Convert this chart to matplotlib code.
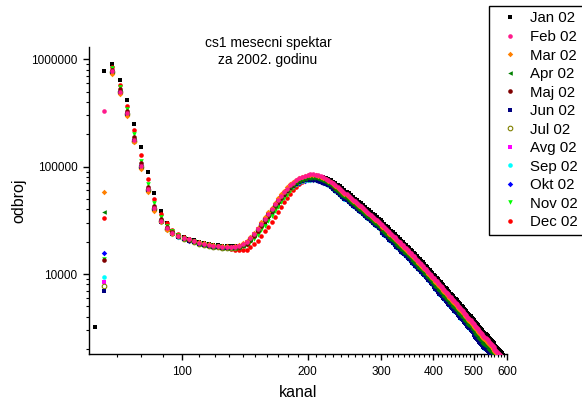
import matplotlib
matplotlib.use("Agg")
import matplotlib.pyplot as plt
from matplotlib.ticker import FixedLocator, FixedFormatter, NullFormatter

plt.rcParams['font.family'] = ['Liberation Sans', 'DejaVu Sans']

# kanali (svaka 3. tacka spektra)
kanal = [65, 68, 71, 74, 77, 80, 83, 86, 89, 92,
         95, 98, 101, 104, 107, 110, 113, 116, 119, 122,
         125, 128, 131, 134, 137, 140, 143, 146, 149, 152,
         155, 158, 161, 164, 167, 170, 173, 176, 179, 182,
         185, 188, 191, 194, 197, 200, 203, 206, 209, 212,
         215, 218, 221, 224, 227, 230, 233, 236, 239, 242,
         245, 248, 251, 254, 257, 260, 263, 266, 269, 272,
         275, 278, 281, 284, 287, 290, 293, 296, 299, 302,
         305, 308, 311, 314, 317, 320, 323, 326, 329, 332,
         335, 338, 341, 344, 347, 350, 353, 356, 359, 362,
         365, 368, 371, 374, 377, 380, 383, 386, 389, 392,
         395, 398, 401, 404, 407, 410, 413, 416, 419, 422,
         425, 428, 431, 434, 437, 440, 443, 446, 449, 452,
         455, 458, 461, 464, 467, 470, 473, 476, 479, 482,
         485, 488, 491, 494, 497, 500, 503, 506, 509, 512,
         515, 518, 521, 524, 527, 530, 533, 536, 539, 542,
         545, 548, 551, 554, 557, 560, 563, 566, 569, 572,
         575, 578, 581, 584, 587]
kanal_jan = [62] + kanal

# pocetak spektra (kanali 65-230, za Jan 62-230)
jan_pocetak = [3200, 773000, 912000, 634000, 413000, 252000, 151000, 89000, 56500, 38600, 30100,
               25400, 23300, 22200, 21400, 20700, 20000, 19500, 19100, 18700, 18500,
               18300, 18200, 18100, 18100, 18200, 18600, 19300, 20500, 22200, 24400,
               27000, 30000, 33300, 36800, 40600, 44600, 48800, 53000, 57200, 61300,
               65200, 68800, 72000, 74800, 77000, 78800, 80000, 80800, 81100, 81000,
               80400, 79400, 78000, 76300, 74400, 72300]
feb_pocetak = [330000, 770000, 500000, 313000, 177000, 101000, 61500, 41000, 31400, 26700,
               24300, 22800, 21800, 21100, 20400, 19600, 19200, 18800, 18400, 18300,
               18000, 18000, 17900, 18000, 18300, 19000, 19900, 21600, 23600, 26300,
               29300, 32700, 36300, 40000, 44500, 49000, 53500, 58000, 62500, 67000,
               71000, 74800, 78000, 80600, 82600, 83800, 84600, 84800, 84200, 83000,
               81400, 79600, 77400, 75000, 72600, 70000]
mar_pocetak = [58000, 731000, 475000, 297000, 168000, 96000, 58400, 39000, 30200, 25900,
               23800, 22600, 21800, 21100, 20400, 19700, 19300, 18900, 18500, 18400,
               18100, 18100, 18000, 18200, 18600, 19500, 20500, 22200, 24300, 27100,
               30200, 33700, 37400, 41200, 45800, 50500, 55100, 59700, 64100, 68400,
               72100, 75600, 78400, 80600, 82200, 83000, 83800, 84000, 83400, 82200,
               80600, 78800, 76600, 74200, 71500, 68800]
apr_pocetak = [38000, 760000, 495000, 310000, 176000, 100000, 61000, 40600, 31000, 26300,
               23900, 22300, 21400, 20700, 20000, 19200, 18800, 18400, 18000, 17900,
               17600, 17600, 17500, 17600, 17900, 18400, 19300, 20900, 22900, 25500,
               28400, 31700, 35200, 38800, 43200, 47500, 51900, 56300, 60300, 64300,
               67800, 71100, 73700, 75800, 77400, 78300, 78900, 78900, 78300, 77200,
               75700, 73900, 71700, 69300, 66900, 64400]
maj_pocetak = [13500, 800000, 525000, 330000, 188000, 107000, 65000, 43000, 32600, 27500,
               24700, 22800, 21600, 20900, 20200, 19400, 19000, 18600, 18200, 18100,
               17800, 17800, 17700, 17800, 18000, 18500, 19200, 20700, 22700, 25200,
               28100, 31400, 34800, 38400, 42700, 47000, 51400, 55700, 60000, 64300,
               68000, 71600, 74600, 77000, 78900, 80000, 80800, 81000, 80400, 79300,
               77700, 76000, 73900, 71600, 69300, 66500]
jun_pocetak = [6900, 750000, 490000, 307000, 173000, 99000, 60300, 40200, 30800, 26100,
               23700, 22100, 21100, 20500, 19800, 19000, 18600, 18200, 17800, 17800,
               17500, 17500, 17400, 17500, 17800, 18500, 19400, 21100, 23000, 25600,
               28500, 31800, 35200, 38600, 42700, 46800, 50800, 54800, 58800, 62600,
               65900, 68900, 71300, 73100, 74400, 75000, 75300, 75500, 74900, 73900,
               72400, 70800, 68900, 66800, 64500, 62100]
jul_pocetak = [7700, 762000, 495000, 310000, 175000, 100000, 60900, 40600, 31100, 26400,
               24000, 22400, 21400, 20700, 20000, 19200, 18800, 18400, 18000, 17900,
               17600, 17600, 17500, 17600, 18000, 18700, 19600, 21300, 23200, 25900,
               28900, 32200, 35800, 39200, 43400, 47500, 51600, 55700, 59700, 63700,
               67100, 70300, 72900, 74900, 76200, 76900, 77300, 77200, 76600, 75500,
               74100, 72400, 70400, 68300, 66100, 63700]
avg_pocetak = [8400, 747000, 485000, 304000, 172000, 98000, 59700, 39800, 30500, 26000,
               23700, 22300, 21400, 20700, 20000, 19200, 18800, 18400, 18000, 17900,
               17600, 17600, 17500, 17700, 18100, 18800, 19700, 21400, 23400, 26000,
               29000, 32400, 35900, 39400, 43600, 47800, 51900, 55900, 59800, 63500,
               66700, 69600, 71800, 73500, 74800, 75600, 76200, 76300, 75800, 74700,
               73300, 71600, 69700, 67500, 65300, 62700]
sep_pocetak = [9300, 755000, 490000, 307000, 173000, 99000, 60300, 40200, 30800, 26200,
               23800, 22200, 21300, 20600, 19900, 19100, 18700, 18300, 17900, 17800,
               17500, 17500, 17500, 17600, 18000, 18700, 19600, 21300, 23200, 25900,
               28800, 32200, 35600, 39100, 43300, 47400, 51500, 55500, 59400, 63100,
               66300, 69200, 71500, 73200, 74500, 75300, 75800, 75900, 75400, 74300,
               72900, 71200, 69300, 67100, 65000, 62500]
okt_pocetak = [15800, 780000, 508000, 318000, 180000, 103000, 62000, 41200, 31400, 26500,
               23900, 22200, 21100, 20500, 19800, 19000, 18600, 18200, 17800, 17800,
               17500, 17500, 17400, 17500, 17800, 18500, 19400, 21000, 23000, 25600,
               28500, 31800, 35300, 38800, 43000, 47200, 51200, 55100, 58900, 62600,
               65800, 68700, 71000, 72800, 74200, 75100, 75500, 75500, 74900, 73900,
               72400, 70800, 68900, 66800, 64500, 62100]
nov_pocetak = [13700, 835000, 550000, 345000, 200000, 114000, 69000, 45500, 34100, 28300,
               25200, 23200, 21800, 20900, 20200, 19400, 19000, 18600, 18200, 18100,
               17800, 17700, 17500, 17500, 17700, 18200, 18800, 20000, 21400, 23300,
               25500, 28300, 31200, 34400, 38300, 42400, 46500, 50800, 55000, 59300,
               63200, 67000, 70200, 73000, 75200, 76700, 77800, 78400, 78300, 77600,
               76100, 74400, 72400, 70100, 67900, 65500]
dec_pocetak = [33000, 850000, 580000, 366000, 219000, 128000, 76000, 49500, 36500, 29600,
               25800, 23500, 22000, 21000, 20200, 19400, 19000, 18600, 18200, 18000,
               17600, 17500, 17100, 16800, 16700, 16700, 16900, 17700, 18900, 20500,
               22400, 24900, 27600, 30600, 34300, 38200, 42300, 46400, 50900, 55600,
               60000, 64300, 68300, 71700, 74300, 76300, 77800, 78900, 78700, 78000,
               76700, 75200, 73300, 71100, 68900, 66500]

# rep spektra (kanali 233-587)
jan_rep = [69700, 67300, 65600, 63200, 60700, 58400, 56300, 54200, 52300, 50400,
           49000, 47300, 45600, 43800, 42200, 40700, 39200, 37800, 36400, 35100,
           33900, 32700, 31600,
           30400, 29300, 28200, 27200, 26200, 25300, 24400, 23500, 22700, 21900,
           21200, 20400, 19800, 19200, 18500, 17900, 17300, 16800, 16300, 15800,
           15200, 14700, 14100, 13700, 13300, 12900, 12400, 12000, 11600, 11200,
           10900, 10500, 10200,
           9880, 9560, 9260, 8950, 8670, 8400, 8140, 7890, 7650, 7410,
           7180, 6970, 6760, 6560, 6370, 6180, 6000, 5880, 5700, 5530,
           5370, 5210, 5060, 4920, 4770, 4640, 4510, 4380, 4260, 4140,
           4030, 3920, 3820,
           3710, 3610, 3510, 3420, 3320, 3240, 3150, 3070, 2990, 2910,
           2830, 2770, 2690, 2630, 2560, 2500, 2430, 2380, 2310, 2260,
           2200, 2150, 2090, 2050, 1990, 1950, 1910, 1860, 1820, 1780]
feb_rep = [67100, 64500, 61900, 59600, 57300, 55100, 53100, 51100, 49300, 47500,
           45800, 44200, 42600, 40900, 39400, 38000, 36600, 35300, 34000, 32800,
           31700, 30600, 29500,
           28400, 27400, 26400, 25400, 24500, 23600, 22800, 22000, 21200, 20500,
           19800, 19100, 18500, 17900, 17300, 16700, 16200, 15600, 15100, 14600,
           14100, 13600, 13100, 12700, 12300, 11900, 11500, 11100, 10700, 10400,
           10100, 9750, 9450,
           9150, 8850, 8570, 8290, 8030, 7780, 7540, 7310, 7080, 6860,
           6650, 6450, 6260, 6070, 5900, 5720, 5560, 5390, 5230, 5070,
           4930, 4780, 4640, 4510, 4380, 4260, 4140, 4020, 3910, 3800,
           3700, 3600, 3500,
           3400, 3310, 3220, 3140, 3050, 2970, 2890, 2820, 2740, 2670,
           2600, 2540, 2470, 2410, 2350, 2290, 2230, 2180, 2120, 2070,
           2020, 1970, 1920, 1880, 1830, 1790, 1750, 1710, 1670, 1630]
rep_a = [65800, 63200, 60700, 58400, 56200, 54000, 52000, 50100, 48300, 46600,
         44900, 43300, 41700, 40100, 38600, 37200, 35900, 34600, 33300, 32100,
         31100, 30000, 28900,
         27500, 26600, 25600, 24600, 23800, 22900, 22100, 21300, 20600, 19900,
         19200, 18500, 17900, 17400, 16800, 16200, 15700, 15100, 14600, 14200,
         13700, 13200, 12700, 12300, 11900, 11500, 11200, 10800, 10400, 10100,
         9800, 9460, 9170,
         8780, 8500, 8230, 7960, 7710, 7470, 7240, 7020, 6800, 6590,
         6380, 6190, 6010, 5830, 5660, 5490, 5340, 5170, 5020, 4870,
         4730, 4590, 4450, 4330, 4200, 4090, 3970, 3860, 3750, 3650,
         3550, 3460, 3360,
         3230, 3140, 3060, 2980, 2900, 2820, 2750, 2680, 2600, 2540,
         2470, 2410, 2350, 2290, 2230, 2180, 2120, 2070, 2010, 1970,
         1920, 1870, 1820, 1790, 1740, 1700, 1660, 1620, 1590, 1550]
rep_b = [63100, 60600, 58200, 56000, 53900, 51800, 49900, 48000, 46300, 44700,
         43100, 41500, 40000, 38400, 37000, 35700, 34400, 33200, 32000, 30800,
         29800, 28800, 27700,
         26400, 25500, 24600, 23600, 22800, 21900, 21200, 20500, 19700, 19100,
         18400, 17800, 17200, 16600, 16100, 15500, 15100, 14500, 14000, 13600,
         13100, 12600, 12200, 11800, 11400, 11100, 10700, 10300, 9950, 9670,
         9390, 9070, 8790,
         8420, 8140, 7880, 7630, 7390, 7160, 6940, 6730, 6510, 6310,
         6120, 5930, 5760, 5580, 5430, 5260, 5120, 4960, 4810, 4660,
         4540, 4400, 4270, 4150, 4030, 3920, 3810, 3700, 3600, 3500,
         3400, 3310, 3220,
         3090, 3010, 2930, 2860, 2780, 2700, 2630, 2570, 2490, 2430,
         2370, 2310, 2250, 2190, 2140, 2080, 2030, 1980, 1930, 1880,
         1840, 1790, 1750, 1710, 1670, 1630, 1590, 1560, 1520, 1480]
rep_c = [60400, 58100, 55700, 53600, 51600, 49600, 47800, 46000, 44400, 42800,
         41200, 39800, 38300, 36800, 35500, 34200, 32900, 31800, 30600, 29500,
         28500, 27500, 26600,
         25000, 24100, 23200, 22400, 21600, 20800, 20100, 19400, 18700, 18000,
         17400, 16800, 16300, 15800, 15200, 14700, 14300, 13700, 13300, 12800,
         12400, 12000, 11500, 11200, 10800, 10500, 10100, 9770, 9420, 9150,
         8890, 8580, 8320,
         7870, 7610, 7370, 7130, 6910, 6690, 6480, 6290, 6090, 5900,
         5720, 5550, 5380, 5220, 5070, 4920, 4780, 4640, 4500, 4360,
         4240, 4110, 3990, 3880, 3770, 3660, 3560, 3460, 3360, 3270,
         3180, 3100, 3010,
         2860, 2780, 2700, 2640, 2560, 2490, 2430, 2370, 2300, 2240,
         2180, 2130, 2070, 2020, 1970, 1920, 1870, 1830, 1780, 1740,
         1700, 1650, 1610, 1580, 1540, 1500, 1470, 1440, 1400, 1370]
rep_d = [59000, 56800, 54500, 52400, 50400, 48500, 46700, 45000, 43400, 41800,
         40300, 38900, 37500, 36000, 34700, 33400, 32200, 31100, 29900, 28900,
         27900, 26900, 26000,
         24100, 23300, 22400, 21600, 20800, 20100, 19400, 18700, 18000, 17400,
         16800, 16200, 15700, 15200, 14700, 14200, 13800, 13300, 12800, 12400,
         12000, 11600, 11100, 10800, 10500, 10100, 9780, 9440, 9100, 8840,
         8590, 8290, 8030,
         7500, 7260, 7030, 6800, 6580, 6380, 6180, 5990, 5810, 5630,
         5450, 5290, 5130, 4980, 4840, 4690, 4560, 4420, 4290, 4160,
         4040, 3920, 3800, 3700, 3590, 3490, 3390, 3300, 3210, 3120,
         3030, 2950, 2870,
         2690, 2610, 2540, 2480, 2410, 2350, 2280, 2230, 2160, 2110,
         2050, 2010, 1950, 1900, 1860, 1810, 1760, 1720, 1670, 1640,
         1600, 1560, 1520, 1490, 1450, 1410, 1380, 1350, 1320, 1290]

jan = jan_pocetak + jan_rep
feb = feb_pocetak + feb_rep
mar = mar_pocetak + rep_a
apr = apr_pocetak + rep_c
maj = maj_pocetak + rep_b
jun = jun_pocetak + rep_d
jul = jul_pocetak + rep_c
avg = avg_pocetak + rep_d
sep = sep_pocetak + rep_d
okt = okt_pocetak + rep_d
nov = nov_pocetak + rep_b
dec = dec_pocetak + rep_b

meseci = ["Jan 02", "Feb 02", "Mar 02", "Apr 02", "Maj 02", "Jun 02",
          "Jul 02", "Avg 02", "Sep 02", "Okt 02", "Nov 02", "Dec 02"]
podaci = [jan, feb, mar, apr, maj, jun, jul, avg, sep, okt, nov, dec]
boje = ["#000000", "#ff1a8c", "#ff8000", "#008000", "#800000", "#000080",
        "#808000", "#ff00ff", "#00ffff", "#0000ff", "#00ff00", "#ff0000"]
markeri = ["s", "o", "D", "<", "o", "s", "o", "s", "o", "D", "v", "o"]
# redosled crtanja (Feb na vrhu)
zred = [1, 12, 11, 10, 9, 8, 7, 6, 5, 4, 3, 2]

fig = plt.figure(figsize=(5.82, 4.05), dpi=100)
ax = fig.add_axes([89/582, 51/405, 418/582, 307/405])

handles = []
for i in range(12):
    x = kanal_jan if i == 0 else kanal
    ms = 2.8 if markeri[i] == "D" else 3.3
    if i == 6:
        kw = dict(markerfacecolor="none", markeredgecolor=boje[i], markeredgewidth=0.8)
    else:
        kw = dict(markerfacecolor=boje[i], markeredgewidth=0)
    ln, = ax.plot(x, podaci[i], linestyle="none", marker=markeri[i], markersize=ms,
                  zorder=zred[i], label=meseci[i], **kw)
    handles.append(ln)

ax.set_xscale("log")
ax.set_yscale("log")
ax.set_xlim(60, 600)
ax.set_ylim(1800, 1.3e6)

ax.xaxis.set_major_locator(FixedLocator([100, 200, 300, 400, 500, 600]))
ax.xaxis.set_major_formatter(FixedFormatter(["100", "200", "300", "400", "500", "600"]))
ax.xaxis.set_minor_locator(FixedLocator([v for v in range(70, 600, 10) if v % 100 != 0]))
ax.xaxis.set_minor_formatter(NullFormatter())
ax.yaxis.set_major_locator(FixedLocator([1e4, 1e5, 1e6]))
ax.yaxis.set_major_formatter(FixedFormatter(["10000", "100000", "1000000"]))
ax.yaxis.set_minor_locator(FixedLocator([m * 10**k for k in (3, 4, 5) for m in range(2, 10)]))
ax.yaxis.set_minor_formatter(NullFormatter())

for s in ("top", "right"):
    ax.spines[s].set_visible(False)
for s in ("left", "bottom"):
    ax.spines[s].set_linewidth(1.0)
ax.tick_params(which="major", direction="out", length=4.3, width=1.0, labelsize=8.5, pad=4)
ax.tick_params(which="minor", direction="out", length=2.5, width=0.8)

ax.set_xlabel("kanal", fontsize=11.5)
ax.set_ylabel("odbroj", fontsize=11.5)
ax.xaxis.set_label_coords(0.5, -0.10)
ax.yaxis.set_label_coords(-0.15, 0.5)

fig.text(268/582, 1 - 46.7/405, "cs1 mesecni spektar", ha="center", va="baseline", fontsize=10)
fig.text(268/582, 1 - 64.3/405, "za 2002. godinu", ha="center", va="baseline", fontsize=10)

leg = fig.legend(handles=handles, labels=meseci, loc="upper left",
                 bbox_to_anchor=(489/582, 1 - 5.5/405), fontsize=10.8,
                 frameon=True, fancybox=False, edgecolor="black", framealpha=1,
                 handlelength=2.0, handletextpad=0.35, labelspacing=0.3,
                 borderpad=0.4, borderaxespad=0, markerscale=1.0)
leg.get_frame().set_linewidth(1.0)

fig.savefig("out.png", dpi=100)
